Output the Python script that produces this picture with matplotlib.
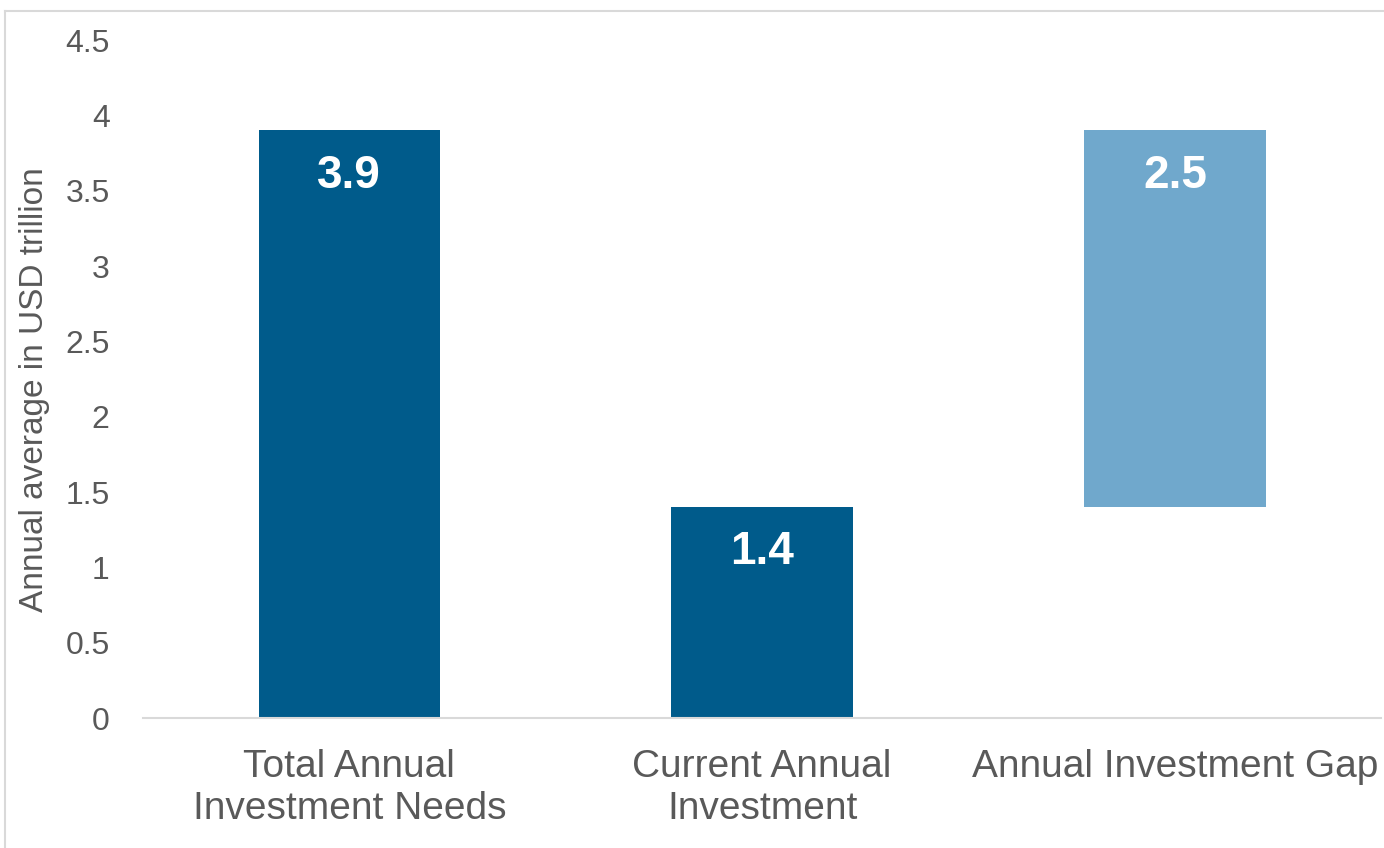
import matplotlib.pyplot as plt
from matplotlib.lines import Line2D

categories = ['Total Annual\nInvestment Needs', 'Current Annual\nInvestment', 'Annual Investment Gap']
values = [3.9, 1.4, 2.5]
bottoms = [0, 0, 1.4]
colors = ['#005B8B', '#005B8B', '#70A8CC']

plt.rcParams['font.family'] = ['Liberation Sans', 'DejaVu Sans']
gray = '#595959'

fig = plt.figure(figsize=(13.84, 8.48), dpi=100)
ax = fig.add_axes([0.1033, 0.1533, 0.8947, 0.7995])

x = range(len(categories))
ax.bar(x, values, bottom=bottoms, width=0.44, color=colors)

for i, (v, b) in enumerate(zip(values, bottoms)):
    ax.text(i, b + v - 0.3, f'{v:.1f}', ha='center', va='center',
            color='white', fontsize=33, fontweight='bold')

ax.set_xlim(-0.5, 2.5)
ax.set_ylim(0, 4.5)
ax.set_yticks([0, 0.5, 1, 1.5, 2, 2.5, 3, 3.5, 4, 4.5])
ax.set_yticklabels(['0', '0.5', '1', '1.5', '2', '2.5', '3', '3.5', '4', '4.5'])
ax.set_xticks(list(x))
ax.set_xticklabels(categories, linespacing=1.24)
ax.tick_params(axis='y', length=0, pad=24, labelsize=23, labelcolor=gray)
ax.tick_params(axis='x', length=0, pad=22, labelsize=28, labelcolor=gray)

for s in ['top', 'right', 'left']:
    ax.spines[s].set_visible(False)
ax.spines['bottom'].set_color('#d9d9d9')
ax.spines['bottom'].set_linewidth(1.5)

fig.text(0.025, 0.54, 'Annual average in USD trillion', rotation=90,
         ha='center', va='center', fontsize=24, color=gray)

# light border of the original slide
fig.add_artist(Line2D([5 / 1384, 5 / 1384], [0, 1 - 11 / 848], transform=fig.transFigure,
                      color='#d9d9d9', linewidth=1.5))
fig.add_artist(Line2D([5 / 1384, 1], [1 - 11 / 848, 1 - 11 / 848], transform=fig.transFigure,
                      color='#d9d9d9', linewidth=1.5))

fig.savefig('out.png', dpi=100, facecolor='white')
